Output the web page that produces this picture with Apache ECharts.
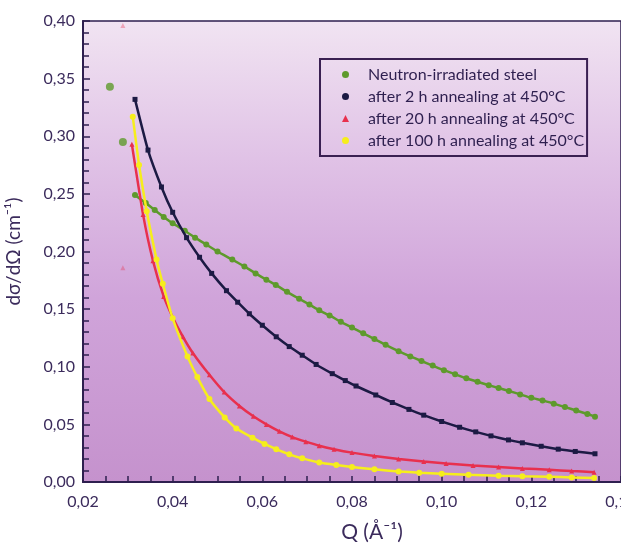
<!DOCTYPE html>
<html>
<head>
<meta charset="utf-8">
<script src="https://cdn.jsdelivr.net/npm/echarts@6/dist/echarts.min.js"></script>
<style>
html,body{margin:0;padding:0;background:#fff;}
#chart{width:621px;height:546px;}
</style>
</head>
<body>
<div id="chart"></div>
<script>
// series names
var seriesNames = ['Neutron-irradiated steel', 'after 2 h annealing at 450°C', 'after 20 h annealing at 450°C', 'after 100 h annealing at 450°C'];

// Neutron-irradiated steel
var greenQ = [0.0316, 0.034, 0.036, 0.038, 0.040, 0.0427, 0.045, 0.0475, 0.050, 0.0533, 0.056, 0.0585, 0.0609, 0.063, 0.0655, 0.0682, 0.0705, 0.0727, 0.075, 0.0775, 0.080, 0.0825, 0.085, 0.0875, 0.0904, 0.093, 0.0955, 0.098, 0.1005, 0.103, 0.1055, 0.108, 0.1105, 0.1127, 0.115, 0.1175, 0.120, 0.1225, 0.125, 0.1275, 0.130, 0.1325, 0.1342];
var greenI = [0.249, 0.242, 0.236, 0.230, 0.2245, 0.218, 0.212, 0.206, 0.200, 0.193, 0.187, 0.181, 0.1755, 0.171, 0.165, 0.159, 0.154, 0.149, 0.1445, 0.139, 0.134, 0.129, 0.124, 0.119, 0.1135, 0.109, 0.105, 0.101, 0.097, 0.0935, 0.090, 0.087, 0.084, 0.0815, 0.079, 0.076, 0.073, 0.0708, 0.068, 0.065, 0.062, 0.059, 0.0567];
var greenOutQ = [0.026, 0.0289];
var greenOutI = [0.343, 0.295];

// after 2 h
var blackQ = [0.0316, 0.0345, 0.0375, 0.040, 0.0431, 0.046, 0.0487, 0.052, 0.0545, 0.0571, 0.060, 0.0631, 0.066, 0.0689, 0.072, 0.0756, 0.0785, 0.0809, 0.0853, 0.089, 0.0927, 0.096, 0.100, 0.104, 0.1076, 0.111, 0.1149, 0.118, 0.1222, 0.126, 0.1298, 0.1342];
var blackI = [0.332, 0.288, 0.256, 0.234, 0.212, 0.195, 0.181, 0.166, 0.156, 0.146, 0.136, 0.126, 0.1175, 0.110, 0.102, 0.094, 0.088, 0.0833, 0.0755, 0.069, 0.063, 0.058, 0.0525, 0.0475, 0.0435, 0.040, 0.0365, 0.034, 0.031, 0.0285, 0.0265, 0.0245];

// after 20 h
var redQ = [0.0309, 0.0334, 0.0356, 0.038, 0.040, 0.0423, 0.0445, 0.0482, 0.0515, 0.0549, 0.058, 0.0609, 0.0638, 0.0667, 0.0697, 0.0727, 0.076, 0.080, 0.085, 0.0904, 0.096, 0.101, 0.107, 0.1127, 0.118, 0.124, 0.129, 0.134];
var redI = [0.293, 0.232, 0.192, 0.161, 0.143, 0.126, 0.112, 0.093, 0.078, 0.066, 0.057, 0.050, 0.044, 0.039, 0.035, 0.0315, 0.0285, 0.0255, 0.0225, 0.020, 0.0178, 0.016, 0.0143, 0.013, 0.0118, 0.0106, 0.0095, 0.0085];
var redOutQ = [0.0289, 0.0289];
var redOutI = [0.396, 0.186];

// after 100 h
var yellowQ = [0.0311, 0.0325, 0.0342, 0.0364, 0.0378, 0.040, 0.0433, 0.0455, 0.0482, 0.0516, 0.0542, 0.0578, 0.0605, 0.0631, 0.066, 0.0689, 0.0727, 0.0765, 0.080, 0.085, 0.0904, 0.095, 0.100, 0.106, 0.1127, 0.118, 0.124, 0.129, 0.134];
var yellowI = [0.317, 0.275, 0.235, 0.193, 0.172, 0.142, 0.109, 0.091, 0.072, 0.056, 0.0465, 0.0385, 0.033, 0.0285, 0.024, 0.0205, 0.017, 0.0148, 0.013, 0.011, 0.0092, 0.008, 0.0072, 0.0063, 0.0055, 0.005, 0.0045, 0.004, 0.0035];

function pairs(xs, ys){
	var out = [];
	for(var i=0;i<xs.length;i++){
		out.push([xs[i], ys[i]]);
	}
	return out;
}

function comma(v, d){
	return v.toFixed(d).replace('.', ',');
}

var axisCol = '#2e1f4f';
var txtCol = '#3b2b5c';
var font = 'Lato';

var chart = echarts.init(document.getElementById('chart'));

var option = {
	backgroundColor: '#ffffff',
	animation: false,
	textStyle: { fontFamily: font },
	grid: {
		left: 83, right: 0, top: 21, bottom: 64,
		outerBoundsMode: 'none',
		containLabel: false,
		show: true,
		borderColor: axisCol,
		borderWidth: 1.5,
		backgroundColor: new echarts.graphic.LinearGradient(0, 0, 0, 1, [
			{ offset: 0, color: '#f1e4f2' },
			{ offset: 0.3, color: '#e0c2e6' },
			{ offset: 0.6, color: '#d0a4da' },
			{ offset: 1, color: '#c592cd' }
		])
	},
	legend: {
		data: [
			{ name: seriesNames[0], icon: 'circle' },
			{ name: seriesNames[1], icon: 'circle' },
			{ name: seriesNames[2], icon: 'triangle' },
			{ name: seriesNames[3], icon: 'circle' }
		],
		orient: 'vertical',
		left: 320,
		top: 59,
		padding: [7, 3, 7, 22],
		itemWidth: 7,
		itemHeight: 7,
		itemGap: 5,
		borderColor: '#3a2052',
		borderWidth: 2,
		textStyle: { color: '#2e1f4f', fontSize: 16, fontFamily: font, lineHeight: 17, padding: [0, 0, 0, 14] }
	},
	xAxis: {
		type: 'value',
		min: 0.02, max: 0.14, interval: 0.02,
		name: 'Q (Å⁻¹)',
		nameLocation: 'middle',
		nameGap: 40,
		nameTextStyle: { color: txtCol, fontSize: 21, fontFamily: font, padding: [0, 0, 0, 40] },
		axisLine: { lineStyle: { color: axisCol, width: 2 } },
		axisTick: { inside: true, length: 6, lineStyle: { color: axisCol, width: 1.5 } },
		minorTick: { show: true, splitNumber: 4, length: 6, lineStyle: { color: axisCol, width: 1.5 } },
		splitLine: { show: false },
		axisLabel: { color: txtCol, fontSize: 16, margin: 12, formatter: function(v){ return comma(v, 2); } }
	},
	yAxis: {
		type: 'value',
		min: 0, max: 0.4, interval: 0.05,
		name: 'dσ/dΩ (cm⁻¹)',
		nameLocation: 'middle',
		nameGap: 60,
		nameRotate: 90,
		nameTextStyle: { color: txtCol, fontSize: 19, fontFamily: font },
		axisLine: { lineStyle: { color: axisCol, width: 2 } },
		axisTick: { inside: true, length: 7, lineStyle: { color: axisCol, width: 1.5 } },
		minorTick: { show: true, splitNumber: 5, length: 6, lineStyle: { color: axisCol, width: 1.5 } },
		splitLine: { show: false },
		axisLabel: { color: txtCol, fontSize: 16, margin: 8, formatter: function(v){ return comma(v, 2); } }
	},
	series: [
		{
			name: seriesNames[0], type: 'line', smooth: 0.15,
			data: pairs(greenQ, greenI),
			symbol: 'circle', symbolSize: 6,
			itemStyle: { color: '#5e9a2c' },
			lineStyle: { color: '#5e9a2c', width: 2.5 },
			z: 3
		},
		{
			name: seriesNames[1], type: 'line', smooth: 0.15,
			data: pairs(blackQ, blackI),
			symbol: 'rect', symbolSize: 5,
			itemStyle: { color: '#1c1a44' },
			lineStyle: { color: '#1c1a44', width: 2.5 },
			z: 4
		},
		{
			name: seriesNames[2], type: 'line', smooth: 0.15,
			data: pairs(redQ, redI),
			symbol: 'triangle', symbolSize: 5,
			itemStyle: { color: '#e8304e' },
			lineStyle: { color: '#e8304e', width: 2.5 },
			z: 5
		},
		{
			name: seriesNames[3], type: 'line', smooth: 0.15,
			data: pairs(yellowQ, yellowI),
			symbol: 'circle', symbolSize: 6,
			itemStyle: { color: '#f6ee1c' },
			lineStyle: { color: '#f6ee1c', width: 2.5 },
			z: 6
		},
		{
			name: 'green-out', type: 'scatter',
			data: pairs(greenOutQ, greenOutI),
			symbol: 'circle', symbolSize: 8,
			itemStyle: { color: '#5e9a2c' }
		},
		{
			name: 'red-out', type: 'scatter',
			data: pairs(redOutQ, redOutI),
			symbol: 'triangle', symbolSize: 5,
			itemStyle: { color: '#e8304e', opacity: 0.35 }
		}
	]
};

chart.setOption(option);
</script>
</body>
</html>
